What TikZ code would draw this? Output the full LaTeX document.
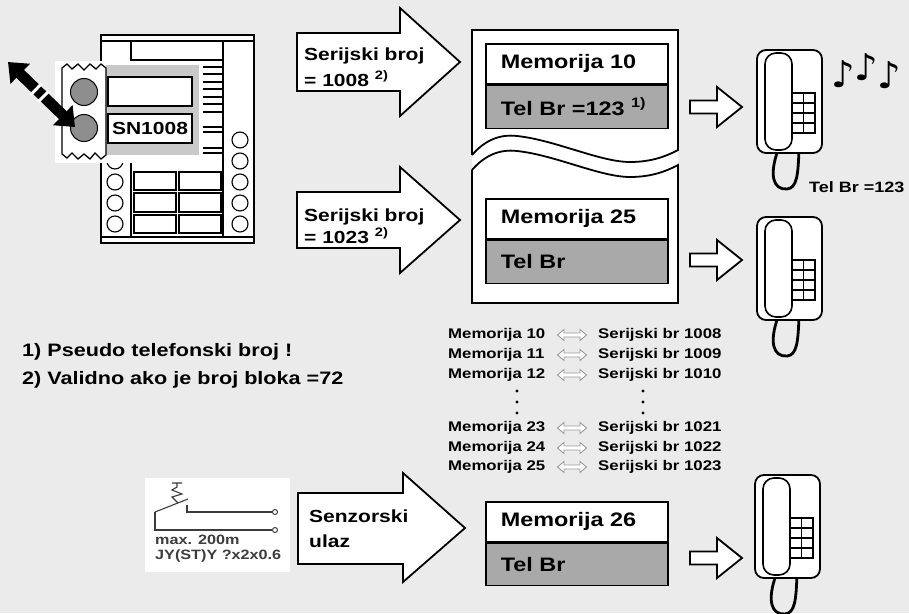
\documentclass[tikz,border=0pt]{standalone}
\usepackage{fontspec}
\setmainfont{Liberation Sans}[FakeStretch=1.2]
\newfontfamily\notefont{DejaVu Sans}
\usetikzlibrary{arrows.meta,positioning}
\definecolor{bggray}{HTML}{EBEBEB}
\definecolor{memgray}{HTML}{A9A9A9}
\definecolor{modgray}{HTML}{C9C9C9}
\definecolor{btngray}{HTML}{8E8E8E}
\definecolor{wiregray}{HTML}{3C3C3C}
\tikzstyle{hollow}=[
	draw=black,
	fill=white,
	line width=1.8pt,
	line join=miter
]
\tikzstyle{memtop}=[
	rectangle,
	draw,
	line width=1.6pt,
	fill=white,
	minimum height=40pt,
	inner xsep=15pt,
	text width=152pt,
	font=\bfseries\fontsize{19.5}{19.5}\selectfont
]
\tikzstyle{membot}=[
	memtop,
	fill=memgray,
	minimum height=43pt
]
\tikzstyle{arrowtext}=[
	inner sep=0pt,
	anchor=west,
	align=left
]
\tikzstyle{maptext}=[
	inner sep=0pt,
	anchor=west,
	font=\bfseries\fontsize{14}{14}\selectfont
]
\tikzstyle{panel}=[
	draw=black,
	line width=1.1pt
]
\tikzstyle{tone}=[
	inner sep=0pt,
	font=\notefont\fontsize{37}{37}\selectfont
]
\tikzset{
	phone/.pic={
		\draw[line width=2.8pt, line cap=round] (21,100) .. controls (12,125) and (16,140) .. (30,139) .. controls (40,138) and (41,125) .. (42,100);
		\draw[line width=1.8pt, rounded corners=9pt, fill=white] (0,0) rectangle (65,103);
		\draw[line width=1.6pt, rounded corners=11pt] (8,3) rectangle (35,100);
		\draw[line width=1.5pt] (35,43) rectangle (58,83)
			(46.5,43) -- (46.5,83) (35,53) -- (58,53) (35,63) -- (58,63) (35,73) -- (58,73);
	},
	smallarrow/.pic={
		\draw[hollow] (0,-6.5) -- (27,-6.5) -- (27,-20) -- (52,0) -- (27,20) -- (27,6.5) -- (0,6.5) -- cycle;
	},
	dblarrow/.pic={
		\draw[line width=0.9pt, draw=black!40, fill=white] (-14.5,0) -- (-8,-5.5) -- (-8,-2) -- (8,-2) -- (8,-5.5) -- (14.5,0) -- (8,5.5) -- (8,2) -- (-8,2) -- (-8,5.5) -- cycle;
	}
}

\begin{document}
\begin{tikzpicture}[x=1pt,y=-1pt]
\useasboundingbox (0,0) rectangle (909,613);
\fill[bggray] (0,0) rectangle (909,613);

% door station
\draw[panel, fill=white] (101,35) rectangle (254,243);
\draw[panel] (101,41) -- (254,41) (101,237) -- (254,237)
	(131,41) -- (131,237) (223,41) -- (223,237) (131,60) -- (223,60);
\foreach \y in {67,74,82,89,97,104,112,127,132,148,153}
	\draw[panel] (203,\y) -- (223,\y);
\foreach \y in {140,161,182,203,224}
	\draw[panel] (240,\y) circle (8pt);
\foreach \y in {161,182,203,224}
	\draw[panel] (115,\y) circle (8pt);
\foreach \y/\z in {172/190,193/212,215/233} {
	\draw[panel] (134,\y) rectangle (176,\z);
	\draw[panel] (179,\y) rectangle (221,\z);
}
\fill[white] (55,61) rectangle (199,163);
\fill[modgray] (106,65) rectangle (199,155);
\draw[line width=1.3pt, fill=white] (62,68) -- (67,64) -- (72,69) -- (78,64) -- (84,70) -- (90,64) -- (96,69) -- (101,64) -- (106,68)
	-- (106,155) -- (101,159) -- (95,153) -- (90,159) -- (84,154) -- (78,159) -- (72,153) -- (67,158) -- (62,154) -- cycle;
\draw[line width=1pt, fill=btngray] (84,92) circle (13.5pt);
\draw[line width=1pt, fill=btngray] (84,128) circle (13.5pt);
\node[draw, line width=1.3pt, fill=white, minimum width=84pt, minimum height=29pt] (display) at (150,91.5) {};
\node[draw, line width=1.3pt, fill=white, minimum width=84pt, minimum height=29pt,
	font=\bfseries\fontsize{17.5}{17.5}\selectfont] (sn) at (150,128.5) {SN1008};
\coordinate (pull) at (8,62);
\coordinate (push) at (75,127);
\draw[line width=11pt, {Triangle[length=17pt,width=27pt]}-{Triangle[length=17pt,width=27pt]}] (pull) -- (push);
\draw[white, line width=3pt] (30.5,95) -- (41.7,83.6) (37.9,102.2) -- (49.1,90.8);

% serial number arrows
\draw[hollow] (297,33) -- (400,33) -- (400,8) -- (460,62) -- (400,116) -- (400,91) -- (297,91) -- cycle;
\node[arrowtext, font=\bfseries\fontsize{17.5}{26}\selectfont] (serial1) at (304,67)
	{Serijski broj\\= 1008 \textsuperscript{2)}};
\draw[hollow] (297,192) -- (400,192) -- (400,167) -- (460,220) -- (400,273) -- (400,248) -- (297,248) -- cycle;
\node[arrowtext, font=\bfseries\fontsize{17.5}{22}\selectfont] (serial2) at (304,226)
	{Serijski broj\\= 1023 \textsuperscript{2)}};

% memory block
\fill[white] (472,30) rectangle (678,303);
\draw[line width=1.8pt] (472,155) -- (472,30) -- (678,30) -- (678,150)
	.. controls (665,157) and (650,162) .. (630,162)
	.. controls (600,162) and (555,140) .. (517,136)
	.. controls (500,134) and (485,140) .. (472,155);
\draw[line width=1.8pt] (472,170) -- (472,303) -- (678,303) -- (678,165)
	.. controls (665,172) and (650,177) .. (630,177)
	.. controls (600,177) and (555,155) .. (517,151)
	.. controls (500,149) and (485,155) .. (472,170);
\node[memtop, anchor=north west] (mem10) at (485,43) {Memorija 10};
\node[membot, below=0pt of mem10] (tel10) {Tel Br =123 \textsuperscript{1)}};
\node[memtop, anchor=north west] (mem25) at (485,198) {Memorija 25};
\node[membot, below=0pt of mem25] (tel25) {Tel Br};

% phones
\pic at (690,107) {smallarrow};
\pic at (757,50) {phone};
\pic at (690,260) {smallarrow};
\pic at (757,217) {phone};
\node[tone] (tone1) at (843,74) {♪};
\node[tone] (tone2) at (866,67) {♪};
\node[tone] (tone3) at (889,75) {♪};
\node[inner sep=0pt, anchor=west, font=\bfseries\fontsize{15}{15}\selectfont] (telbr) at (809,187) {Tel Br =123};

% footnotes
\node[inner sep=0pt, anchor=west, font=\bfseries\fontsize{18}{18}\selectfont] (fn1) at (22,352) {1) Pseudo telefonski broj !};
\node[inner sep=0pt, anchor=west, font=\bfseries\fontsize{18}{18}\selectfont] (fn2) at (22,380) {2) Validno ako je broj bloka =72};

% memory to serial table
\foreach \m/\s/\y in {10/1008/335,11/1009/355,12/1010/375,23/1021/428,24/1022/448,25/1023/467} {
	\node[maptext] (m\m) at (448,\y) {Memorija \m};
	\pic at (572,\y) {dblarrow};
	\node[maptext] (s\m) at (598,\y) {Serijski br \s};
}
\foreach \y in {391,402,413} {
	\fill (517,\y) circle (1.6pt);
	\fill (643,\y) circle (1.6pt);
}

% sensor input
\fill[white] (145,478) rectangle (290,572);
\draw[wiregray, line width=1.1pt] (155,512) -- (155,530) -- (272,530);
\draw[wiregray, line width=1.1pt] (155,512) -- (188,499);
\draw[wiregray, line width=1.1pt] (187,505) -- (187,512) -- (272,512);
\draw[wiregray, line width=1pt] (275,512) circle (2.5pt) (275,530) circle (2.5pt);
\draw[wiregray, line width=1.1pt] (172,483) -- (182,483) (177,483) -- (177,487) -- (172,490) -- (182,494) -- (172,497) -- (178,503);
\node[inner sep=0pt, anchor=west, text=wiregray, font=\bfseries\fontsize{13.5}{13.5}\selectfont] (len) at (155,540) {max. 200m};
\node[inner sep=0pt, anchor=west, text=wiregray, font=\bfseries\fontsize{13.5}{13.5}\selectfont] (cable) at (155,556) {JY(ST)Y ?x2x0.6};
\draw[hollow] (298,493) -- (403,493) -- (403,473) -- (465,528) -- (403,582) -- (403,564) -- (298,564) -- cycle;
\node[arrowtext, font=\bfseries\fontsize{17.5}{25}\selectfont] (sensor) at (309,529) {Senzorski\\ulaz};
\node[memtop, anchor=north west] (mem26) at (485,501) {Memorija 26};
\node[membot, below=0pt of mem26, minimum height=42pt] (tel26) {Tel Br};
\pic at (690,558) {smallarrow};
\pic at (755,475) {phone};
\end{tikzpicture}
\end{document}
